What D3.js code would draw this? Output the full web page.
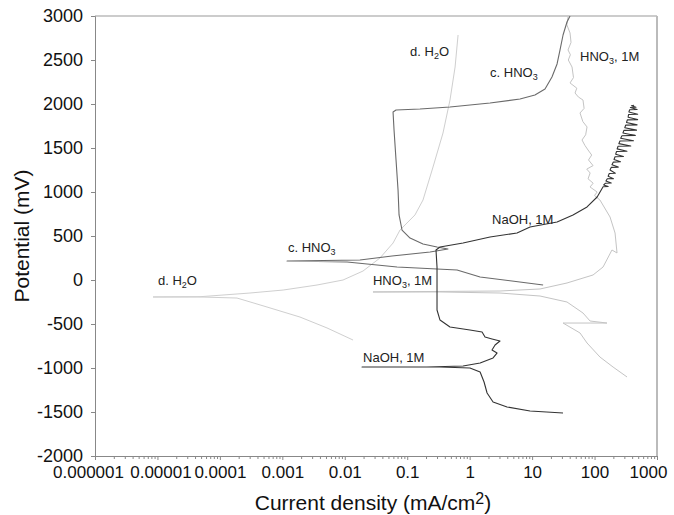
<!DOCTYPE html>
<meta charset="utf-8">
<style>
  body { margin: 0; background: #fff; }
  text { font-family: "Liberation Sans", Arial, sans-serif; }
</style>
<body>
<script src="https://d3js.org/d3.v7.min.js"></script>
<script>

// current density (mA/cm2), potential (mV)
var naoh = [
  [31.3,-1511],[9.27,-1489],[3.97,-1443],[2.37,-1386],[1.90,-1284],[1.70,-1159],[1.47,-1046],[1.01,-1000],
  [0.335,-989],[0.0189,-989],[0.207,-989],[0.784,-977],[1.47,-943],[2.37,-886],[2.74,-830],[2.28,-795],
  [2.55,-739],[3.06,-693],[2.28,-670],[1.76,-648],[1.58,-591],[1.01,-568],[0.484,-534],[0.335,-455],
  [0.30,-341],[0.30,-114],[0.30,148],[0.289,341],[0.335,375],[0.784,420],[2.12,489],[5.73,534],
  [9.27,602],[25.1,659],[45.2,739],[75.8,830],[110,943],
  [137,1060],[165,1062],[140,1080],[150,1100],[185,1103],[152,1125],[160,1150],[200,1152],[165,1180],
  [172,1210],[215,1213],[177,1250],[185,1280],[240,1283],[190,1310],[200,1340],[260,1343],[205,1370],
  [213,1400],[290,1403],[218,1430],[225,1460],[330,1463],[230,1490],[238,1520],[380,1523],[245,1550],
  [255,1580],[420,1583],[262,1610],[275,1640],[450,1643],[285,1670],[295,1700],[470,1703],[305,1730],
  [315,1760],[480,1763],[325,1790],[335,1820],[490,1823],[345,1850],[350,1880],[490,1883],[355,1910],
  [365,1935],[480,1938],[375,1960],[460,1963],[390,1980],[430,1985]
];

var cHNO3 = [
  [15,-57],[4.77,-11],[1.47,34],[0.628,114],[0.0687,148],[0.0109,205],[0.00119,216],[0.0175,227],
  [0.0571,273],[0.232,318],[0.45,352],[0.30,375],[0.179,409],[0.111,477],[0.0826,568],[0.074,739],
  [0.0713,1023],[0.0662,1364],[0.0615,1705],[0.0593,1909],[0.0662,1932],[0.160,1943],[0.484,1966],
  [2.12,2011],[6.4,2057],[11.1,2102],[16.1,2170],[20.8,2307],[25.1,2455],[28,2614],[31.3,2784],
  [36.2,2932],[40.5,3000]
];

var dH2O = [
  [0.01355,-682],[0.0052,-545],[0.00192,-421],[0.000569,-307],[0.000188,-205],[0.000048,-193],
  [0.0000085,-193],[0.000048,-190],[0.000303,-148],[0.00103,-114],[0.00359,-57],[0.00938,0],
  [0.0196,102],[0.0366,250],[0.0593,420],[0.0767,568],[0.133,739],[0.179,909],[0.259,1284],
  [0.374,1670],[0.484,2045],[0.584,2420],[0.652,2784]
];

var hNO3 = [
  [331,-1102],[198,-989],[122,-875],[75.8,-716],[58.5,-602],[31.3,-489],[84.7,-489],[158,-489],
  [84.7,-466],[65.3,-375],[36.2,-250],[13.4,-182],[3.06,-148],[0.335,-136],[0.0283,-136],
  [0.335,-130],[3.06,-125],[13.4,-102],[36.2,-34],[94.6,57],[137,148],[190,341],[229,307],
  [213,534],[177,716],[122,909],[100,960],[110,1000],[84.7,1057],[95,1100],[78.7,1150],[85,1216],
  [75,1260],[94.6,1300],[80,1364],[90,1420],[78.7,1477],[70,1530],[63,1591],[72,1650],[75.8,1739],
  [65,1800],[58.5,1898],[68,1950],[65.3,2045],[55,2080],[48.7,2125],[52,2180],[40.5,2239],[46,2300],
  [43.6,2420],[38,2500],[41,2560],[37.6,2614],[42,2700],[40.5,2807],[36,2900],[37.6,2989]
];

var series = [
  {name: "HNO3, 1M", data: hNO3, color: "#c4c4c4", w: 1},
  {name: "d. H2O", data: dH2O, color: "#cfcfcf", w: 1},
  {name: "c. HNO3", data: cHNO3, color: "#6a6a6a", w: 1.1},
  {name: "NaOH, 1M", data: naoh, color: "#333", w: 1.1}
];

// labels: [text, sub, rest, current, potential]
var labels = [
  ["d. H", "2", "O", 0.111, 2545],
  ["d. H", "2", "O", 0.0000102, -57],
  ["c. HNO", "3", "", 2.12, 2307],
  ["c. HNO", "3", "", 0.00123, 318],
  ["HNO", "3", ", 1M", 58.5, 2489],
  ["HNO", "3", ", 1M", 0.0283, -57],
  ["NaOH, 1M", "", "", 2.28, 636],
  ["NaOH, 1M", "", "", 0.0196, -932]
];

var xDecades = [1e-6, 1e-5, 1e-4, 1e-3, 1e-2, 1e-1, 1, 10, 100, 1000];
var xTickLabels = ["0.000001", "0.00001", "0.0001", "0.001", "0.01", "0.1", "1", "10", "100", "1000"];
var yTicks = [-2000, -1500, -1000, -500, 0, 500, 1000, 1500, 2000, 2500, 3000];

var width = 674, height = 515;
var margin = {left: 95, top: 16, right: 17, bottom: 59};
var w = width - margin.left - margin.right,
    h = height - margin.top - margin.bottom;

var svg = d3.select("body").append("svg")
    .attr("width", width)
    .attr("height", height);

var g = svg.append("g")
    .attr("transform", "translate(" + margin.left + "," + margin.top + ")");

var x = d3.scaleLog().domain([1e-6, 1000]).range([0, w]);
var y = d3.scaleLinear().domain([-2000, 3000]).range([h, 0]);

// minor ticks 2..9 per decade
var minor = [];
xDecades.forEach(function(d, i) {
  if (i == xDecades.length - 1) return;
  for (var k = 2; k <= 9; k++) minor.push(d * k);
});

svg.append("clipPath").attr("id", "clip")
  .append("rect").attr("width", w).attr("height", h);

// frame: top and right
g.append("line").attr("x1", 0).attr("x2", w).attr("y1", 0).attr("y2", 0)
    .attr("stroke", "#999").attr("stroke-width", 1);
g.append("line").attr("x1", w).attr("x2", w).attr("y1", 0).attr("y2", h)
    .attr("stroke", "#bbb").attr("stroke-width", 2);

var line = d3.line()
    .x(function(d) { return x(d[0]); })
    .y(function(d) { return y(d[1]); });

g.append("g").attr("clip-path", "url(#clip)")
  .selectAll("path")
  .data(series)
  .enter().append("path")
    .attr("d", function(d) { return line(d.data); })
    .attr("fill", "none")
    .attr("stroke", function(d) { return d.color; })
    .attr("stroke-width", function(d) { return d.w; })
    .attr("stroke-linejoin", "round");

// x axis
var xMinor = g.append("g").attr("transform", "translate(0," + h + ")")
    .call(d3.axisBottom(x).tickValues(minor).tickSize(3).tickFormat(""));
xMinor.select(".domain").remove();
xMinor.selectAll("line").attr("stroke", "#888");

var xAxis = g.append("g").attr("transform", "translate(0," + h + ")")
    .call(d3.axisBottom(x).tickValues(xDecades).tickSize(4)
      .tickFormat(function(d, i) { return xTickLabels[i]; }));
xAxis.select(".domain").attr("stroke", "#888");
xAxis.selectAll("line").attr("stroke", "#888");
xAxis.selectAll("text")
    .attr("font-size", 17).attr("fill", "#111").attr("dy", "0.9em")
    .attr("dx", function(d, i) { return i == 0 ? -7 : (i == 1 ? 3 : (i == xDecades.length - 1 ? -9 : 0)); })
    .style("font-family", "Liberation Sans, Arial, sans-serif");

// y axis
var yAxis = g.append("g")
    .call(d3.axisLeft(y).tickValues(yTicks).tickSize(4).tickPadding(8)
      .tickFormat(function(d) { return String(d); }));
yAxis.select(".domain").attr("stroke", "#888");
yAxis.selectAll("line").attr("stroke", "#888");
yAxis.selectAll("text")
    .attr("font-size", 18).attr("fill", "#111")
    .style("font-family", "Liberation Sans, Arial, sans-serif");

// axis titles
var xt = svg.append("text")
    .attr("x", margin.left + w / 2 - 3)
    .attr("y", 510)
    .attr("text-anchor", "middle")
    .attr("font-size", 21)
    .attr("fill", "#111");
xt.append("tspan").text("Current density (mA/cm");
xt.append("tspan").attr("font-size", 16).attr("dy", -6).text("2");
xt.append("tspan").attr("dy", 6).text(")");

svg.append("text")
    .attr("transform", "translate(29," + (margin.top + h / 2) + ") rotate(-90)")
    .attr("text-anchor", "middle")
    .attr("font-size", 21)
    .attr("fill", "#111")
    .text("Potential (mV)");

// curve labels
var lab = g.selectAll(".lab")
    .data(labels)
    .enter().append("text")
    .attr("class", "lab")
    .attr("x", function(d) { return x(d[3]); })
    .attr("y", function(d) { return y(d[4]); })
    .attr("font-size", 13)
    .attr("fill", "#222");
lab.append("tspan").text(function(d) { return d[0]; });
lab.append("tspan").attr("font-size", 9).attr("dy", 3).text(function(d) { return d[1]; });
lab.append("tspan").attr("dy", -3).text(function(d) { return d[2]; });

</script>
